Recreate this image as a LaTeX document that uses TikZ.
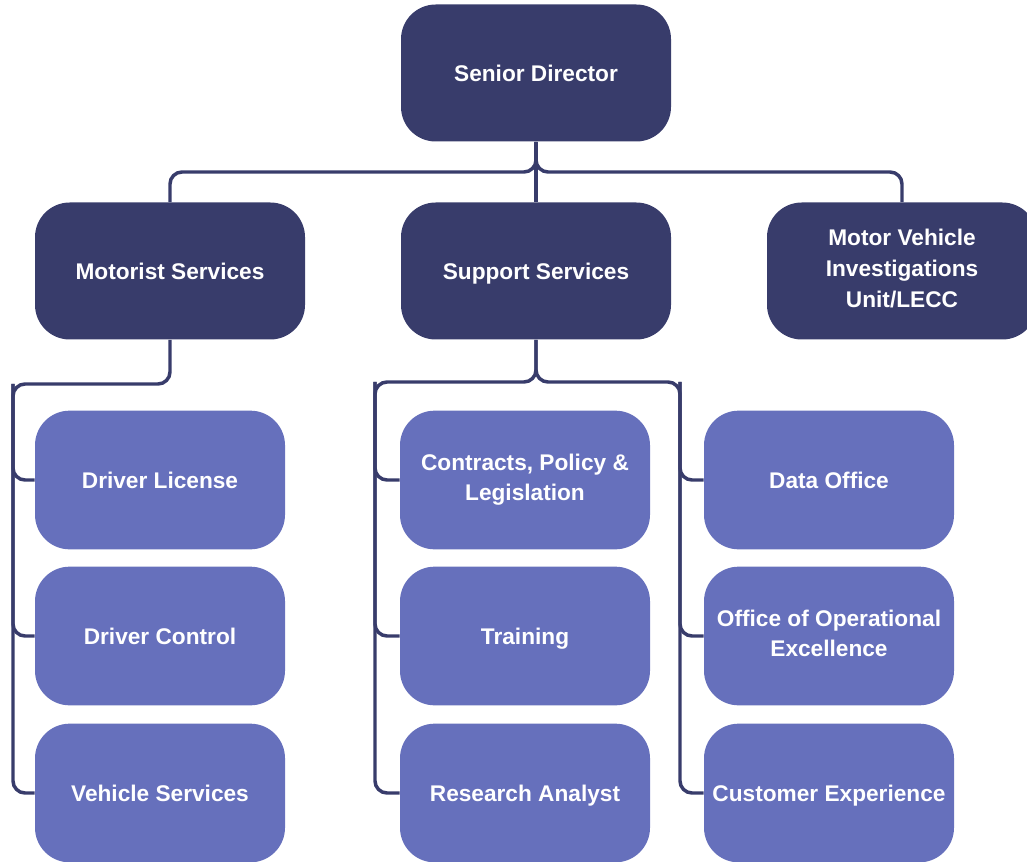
\documentclass[tikz,border=0pt]{standalone}
\usepackage{fontspec}
\setmainfont{Liberation Sans}
\usepackage{xcolor}
\usetikzlibrary{positioning}
\definecolor{navy}{HTML}{383C6B}
\definecolor{periwinkle}{HTML}{6670BC}
\tikzset{
    x = 0.75pt, y = -0.75pt,                    % Work in pixels of the original
    head/.style={fill=navy, text=white, rounded corners=26pt, inner sep=0pt,
        minimum width=202.5pt, minimum height=102.75pt, align=center,
        execute at begin node={\rule{0pt}{16.1pt}},
        execute at end node={\rule[-3.9pt]{0pt}{3.9pt}},
        font=\bfseries\fontsize{17}{23}\selectfont},   % Dark boxes on top
    unit/.style={head, fill=periwinkle, minimum width=187.5pt,
        minimum height=104pt},                  % Light boxes below
    link/.style={draw=navy, line width=2.6pt, rounded corners=9pt}  % Connectors
}

\begin{document}
\begin{tikzpicture}
            \useasboundingbox (0,0) rectangle (1027,862);
            \clip (0,0) rectangle (1027,862);

            \node [head] (director) at (536,73) {Senior Director};
            \node [head] (motorist) at (170,271) {Motorist Services};
            \node [head] (support) at (536,271) {Support Services};
            \node [head] (mviu) at (902,271) {Motor Vehicle\\Investigations\\Unit/LECC};

            \node [unit] (license) at (160,480) {Driver License};
            \node [unit] (control) at (160,636) {Driver Control};
            \node [unit] (vehicle) at (160,793) {Vehicle Services};

            \node [unit] (contracts) at (525,480) {Contracts, Policy \&\\Legislation};
            \node [unit] (training) at (525,636) {Training};
            \node [unit] (research) at (525,793) {Research Analyst};

            \node [unit] (data) at (829,480) {Data Office};
            \node [unit] (excellence) at (829,636) {Office of Operational\\Excellence};
            \node [unit] (customer) at (829,793) {Customer Experience};

            \coordinate (top bus) at (536,172);
            \coordinate (left bus) at (13,384);
            \coordinate (mid bus) at (536,382);
            \coordinate (support left) at (375,382);
            \coordinate (support right) at (680,382);

            \draw [link] (director.south) -- (support.north);
            \draw [link] (director.south) -- (top bus) -| (motorist.north);
            \draw [link] (director.south) -- (top bus) -| (mviu.north);

            \draw [link] (motorist.south) |- (left bus) |- (vehicle.west);
            \draw [link] (left bus) |- (license.west);
            \draw [link] (left bus) |- (control.west);

            \draw [link] (support.south) -- (mid bus) -- (support left) |- (research.west);
            \draw [link] (support left) |- (contracts.west);
            \draw [link] (support left) |- (training.west);
            \draw [link] (support.south) -- (mid bus) -- (support right) |- (customer.west);
            \draw [link] (support right) |- (data.west);
            \draw [link] (support right) |- (excellence.west);
        \end{tikzpicture}
\end{document}
